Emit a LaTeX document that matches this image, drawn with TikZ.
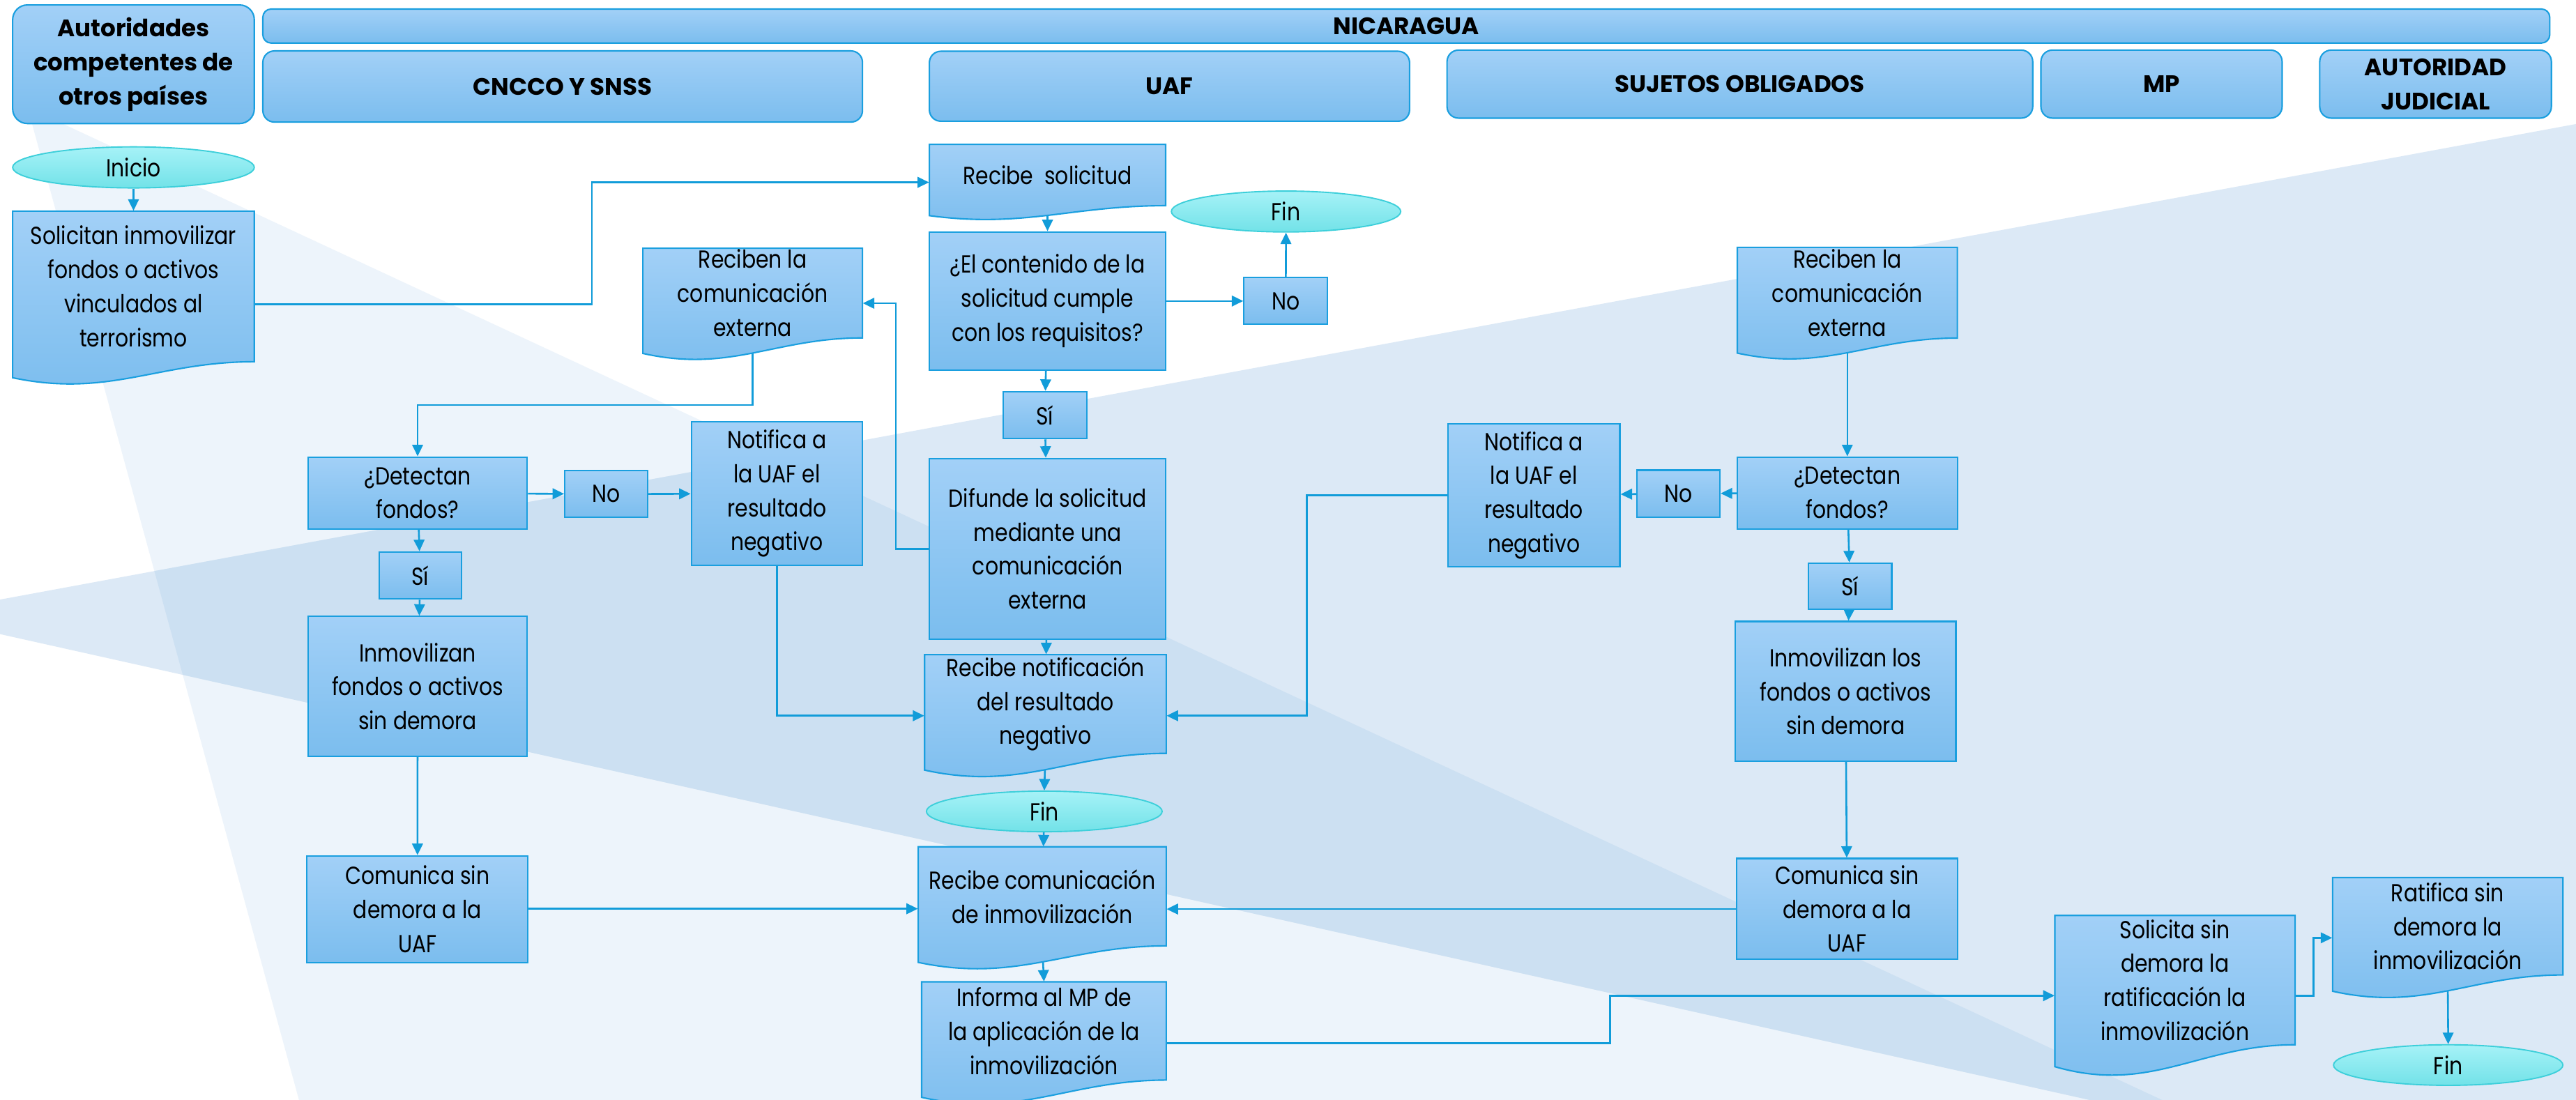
\documentclass[tikz,border=0pt]{standalone}
\usepackage{fontspec}
\setmainfont{Poppins}[FakeStretch=0.845]
\newfontfamily\headfont{Poppins}[FakeStretch=1.0]
\usetikzlibrary{shapes.geometric,arrows.meta}
\definecolor{boxtop}{HTML}{A2D0F7}
\definecolor{boxbot}{HTML}{7BBDEE}
\definecolor{boxline}{HTML}{1A9FDF}
\definecolor{elltop}{HTML}{A6F2F7}
\definecolor{ellbot}{HTML}{72E2E8}
\definecolor{ellline}{HTML}{3DCFDA}
\definecolor{conncol}{HTML}{119CD9}
\definecolor{bgpale}{HTML}{EDF4FB}
\definecolor{bglight}{HTML}{DCE9F6}
\definecolor{bgmed}{HTML}{CCE0F2}
\pgfdeclarelayer{bgimg}
\pgfdeclarelayer{conns}
\pgfdeclarelayer{docs}
\pgfsetlayers{bgimg,conns,docs,main}
\tikzset{
  bodyfont/.style={font=\fontsize{15}{20.7}\selectfont},
  box/.style={rectangle, draw=boxline, line width=0.9pt, top color=boxtop, bottom color=boxbot, inner sep=0pt, align=center, bodyfont},
  head/.style={box, rounded corners=7pt, font=\headfont\fontsize{14.5}{20.7}\selectfont\bfseries},
  ell/.style={ellipse, draw=ellline, line width=0.8pt, top color=elltop, bottom color=ellbot, inner sep=0pt, align=center, bodyfont},
  doctext/.style={rectangle, inner sep=0pt, align=center, bodyfont},
  docshape/.style={draw=boxline, line width=0.9pt, top color=boxtop, bottom color=boxbot},
  conn/.style={draw=conncol, line width=1.1pt, -{Triangle[length=7pt,width=6.5pt]}},
}
% optional style, name, x0, y0, x1, y1, text
\newcommand\bx[7][box]{\node[#1, minimum width={(#5-#3)*1pt}, minimum height={(#6-#4)*1pt}] (#2) at ({(#3+#5)/2},{(#4+#6)/2}) {#7};}
% name, x0, y0, x1, yR, A, text
\newcommand\docnd[7]{%
  \node[doctext, minimum width={(#4-#2)*1pt}, minimum height={(#5-#3)*1pt}] (#1) at ({(#2+#4)/2},{(#3+#5)/2}) {#7};
  \begin{pgfonlayer}{docs}
  \path[docshape] (#2,#3) -- (#4,#3) -- (#4,#5) .. controls ({#2+0.6*(#4-#2)},#5) and ({#2+0.4*(#4-#2)},{#5+1.7*#6}) .. (#2,{#5+0.75*#6}) -- cycle;
  \end{pgfonlayer}}
\begin{document}
\begin{tikzpicture}[x=1pt,y=-1pt]
\useasboundingbox (0,0) rectangle (1568,669.6);
\begin{pgfonlayer}{bgimg}
  \fill[white] (0,0) rectangle (1568,669.6);
  \fill[bgpale] (16.8,65.4) -- (182,669.6) -- (1316,669.6) -- cycle;
  \fill[bglight] (0,365) -- (1568,75.5) -- (1568,669.6) -- (1272,669.6) -- (0,386) -- cycle;
  \begin{scope}
    \clip (16.8,65.4) -- (182,669.6) -- (1316,669.6) -- cycle;
    \fill[bgmed] (0,365) -- (1568,75.5) -- (1568,669.6) -- (1272,669.6) -- (0,386) -- cycle;
  \end{scope}
\end{pgfonlayer}
% headers
\bx[head,rounded corners=9pt]{auth}{7.7}{3}{154.8}{75.2}{Autoridades\\competentes de\\otros países}
\bx[head,rounded corners=5pt]{nic}{160}{5.5}{1552}{26.2}{NICARAGUA}
\bx[head]{cncco}{160}{31}{525}{74.3}{CNCCO Y SNSS}
\bx[head]{uaf}{565.7}{31.2}{858}{73.8}{UAF}
\bx[head]{sujetos}{880.8}{30.5}{1237.3}{71.9}{SUJETOS OBLIGADOS}
\bx[head]{mp}{1242.3}{30.5}{1389.1}{71.9}{MP}
\bx[head]{autjud}{1412}{30.5}{1553}{71.9}{AUTORIDAD\\JUDICIAL}
% body
\bx[ell]{inicio}{7.7}{89.4}{154.8}{114.4}{Inicio}
\docnd{solic}{7.7}{128.5}{154.8}{220.2}{13}{Solicitan inmovilizar\\fondos o activos\\vinculados al\\terrorismo}
\docnd{recsol}{565.7}{87.9}{709.5}{125.2}{8.1}{Recibe~ solicitud}
\bx[ell]{fin1}{713}{116.3}{852.6}{141.2}{Fin}
\bx{cont}{565.7}{141.2}{709.5}{225.3}{¿El contenido de la\\solicitud cumple\\con los requisitos?}
\bx{no1}{757.2}{169}{808.1}{197.5}{No}
\bx{si1}{610.6}{238.4}{661.4}{267}{Sí}
\docnd{recib1}{391.3}{151.1}{525}{205.7}{12.6}{Reciben la\\comunicación\\externa}
\bx{detect1}{187.5}{278.2}{320.9}{322.1}{¿Detectan\\fondos?}
\bx{no2}{343.8}{286.5}{394.1}{315}{No}
\bx{notif1}{420.8}{256.9}{525}{344}{Notifica a\\la UAF el\\resultado\\negativo}
\bx{si2}{230.8}{336}{280.8}{364.7}{Sí}
\bx{inmov1}{187.5}{375.3}{320.9}{460.4}{Inmovilizan\\fondos o activos\\sin demora}
\bx{difunde}{565.7}{279.1}{709.7}{389}{Difunde la solicitud\\mediante una\\comunicación\\externa}
\docnd{recnot}{562.8}{398.5}{709.9}{458.6}{13.6}{Recibe notificación\\del resultado\\negativo}
\bx[ell]{fin2}{563.9}{481.6}{707.4}{506.3}{Fin}
\bx{comun1}{186.8}{521}{321.4}{585.9}{Comunica sin\\demora a la\\UAF}
\docnd{reccom}{558.9}{515.5}{709.9}{575.8}{13.4}{Recibe comunicación\\de inmovilización}
\docnd{informa}{561}{597.7}{709.9}{657.5}{14}{Informa al MP de\\la aplicación de la\\inmovilización}
\docnd{recib2}{1057.5}{150.6}{1191.4}{205.8}{12.2}{Reciben la\\comunicación\\externa}
\bx{detect2}{1057.5}{278.2}{1191.4}{322}{¿Detectan\\fondos?}
\bx{no3}{996.4}{286.2}{1046.9}{314.7}{No}
\bx{notif2}{881.2}{257.9}{986}{345.1}{Notifica a\\la UAF el\\resultado\\negativo}
\bx{si3}{1100.6}{342.8}{1151.5}{371}{Sí}
\bx{inmov2}{1056.3}{378.3}{1190.5}{463.4}{Inmovilizan los\\fondos o activos\\sin demora}
\bx{comun2}{1057}{522.6}{1191.6}{584}{Comunica sin\\demora a la\\UAF}
\docnd{solicita}{1250.8}{557.3}{1397}{636}{17.8}{Solicita sin\\demora la\\ratificación la\\inmovilización}
\docnd{ratif}{1419.8}{534.2}{1560}{593.5}{13.2}{Ratifica sin\\demora la\\inmovilización}
\bx[ell]{fin3}{1420.4}{636}{1560}{660.7}{Fin}
% connectors
\begin{pgfonlayer}{conns}
\draw[conn] (inicio) -- (solic);
\draw[conn] (solic.east |- 0,185.2) -- (360.3,185.2) |- (recsol.west |- 0,111);
\draw[conn] (recsol.south) -- (cont.north);
\draw[conn] (cont) -- (no1);
\draw[conn] (no1) -- (fin1);
\draw[conn] (cont) -- (si1);
\draw[conn] (si1) -- (difunde);
\draw[conn] (difunde.west |- 0,334.2) -- (545.3,334.2) |- (recib1.east |- 0,184.6);
\draw[conn] (recib1.south) -- (recib1.south |- 0,246.5) -| (detect1.north);
\draw[conn] (detect1) -- (no2);
\draw[conn] (no2) -- (notif1);
\draw[conn] (detect1) -- (si2);
\draw[conn] (si2) -- (inmov1);
\draw[conn] (inmov1) -- (comun1);
\draw[conn] (notif1.south) |- (recnot.west |- 0,435.7);
\draw[conn] (difunde) -- (recnot);
\draw[conn] (recnot.south) -- (fin2.north);
\draw[conn] (fin2) -- (reccom);
\draw[conn] (comun1.east |- 0,553.2) -- (reccom.west |- 0,553.2);
\draw[conn] (reccom.south) -- (informa.north);
\draw[conn] (informa.east |- 0,635.1) -- (980.1,635.1) |- (solicita.west |- 0,606.1);
\draw[conn] (solicita.east |- 0,606.1) -- (1408.2,606.1) |- (ratif.west |- 0,570.9);
\draw[conn] (ratif.south) -- (fin3.north);
\draw[conn,line width=0.8pt] (recib2.south) -- (detect2.north);
\draw[conn] (detect2) -- (no3);
\draw[conn] (no3) -- (notif2);
\draw[conn] (notif2.west |- 0,301.6) -- (795.4,301.6) |- (recnot.east |- 0,435.7);
\draw[conn] (detect2) -- (si3);
\draw[conn] (si3) -- (inmov2);
\draw[conn] (inmov2) -- (comun2);
\draw[conn] (comun2.west |- 0,553.4) -- (reccom.east |- 0,553.4);
\end{pgfonlayer}
\end{tikzpicture}
\end{document}
